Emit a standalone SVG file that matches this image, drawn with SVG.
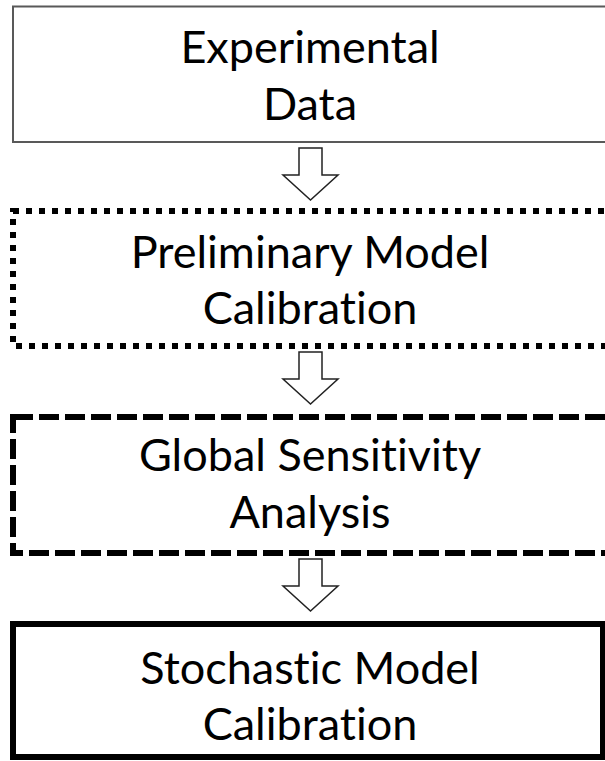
<svg xmlns="http://www.w3.org/2000/svg" width="605" height="761" viewBox="0 0 605 761">
  <style>
    .lbl { font-family: Lato, "Liberation Sans", sans-serif; font-size: 45px; fill: #000; text-anchor: middle; font-variant-ligatures: none; font-feature-settings: "liga" 0, "clig" 0; }
    .arrow { fill: #fff; stroke: #222; stroke-width: 1.5; stroke-linejoin: miter; }
  </style>
  <rect width="605" height="761" fill="#fff"/>
  <g id="n1">
    <rect x="13" y="6.5" width="600" height="135.5" fill="#fff" stroke="#595959" stroke-width="2"/>
    <text class="lbl" x="310" y="63">Experimental</text>
    <text class="lbl" x="310" y="120">Data</text>
  </g>
  <g id="n2">
    <rect x="13" y="211" width="600" height="135" fill="none" stroke="#000" stroke-width="6" stroke-dasharray="6 7"/>
    <text class="lbl" x="310" y="268">Preliminary Model</text>
    <text class="lbl" x="310" y="324">Calibration</text>
  </g>
  <g id="n3">
    <rect x="13" y="417" width="600" height="136" fill="none" stroke="#000" stroke-width="6" stroke-dasharray="20 6"/>
    <text class="lbl" x="310" y="471">Global Sensitivity</text>
    <text class="lbl" x="310" y="528">Analysis</text>
  </g>
  <g id="n4">
    <rect x="13" y="624" width="590" height="133" fill="none" stroke="#000" stroke-width="6"/>
    <text class="lbl" x="310" y="684">Stochastic Model</text>
    <text class="lbl" x="310" y="740">Calibration</text>
  </g>
  <g id="connectors">
    <path class="arrow" d="M299,148 H322 V175 H338 L310.5,200 L283,175 H299 Z"/>
    <path class="arrow" d="M299,352 H322 V379 H338 L310.5,404 L283,379 H299 Z"/>
    <path class="arrow" d="M299,559 H322 V586 H338 L310.5,611 L283,586 H299 Z"/>
  </g>
</svg>
